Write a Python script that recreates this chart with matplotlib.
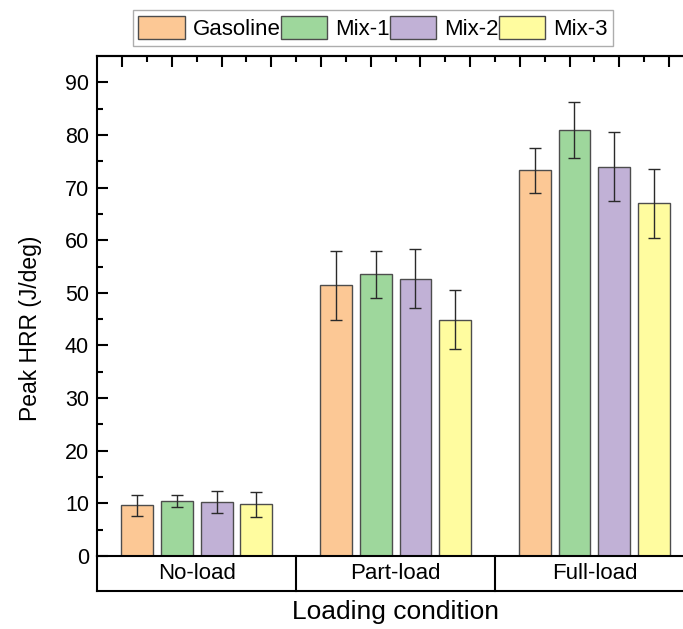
import matplotlib
matplotlib.use("Agg")
import matplotlib.pyplot as plt
import matplotlib.transforms as mtransforms
from matplotlib.patches import Patch
import numpy as np

plt.rcParams['font.family'] = ['Liberation Sans', 'DejaVu Sans']

categories = ["No-load", "Part-load", "Full-load"]
series = ["Gasoline", "Mix-1", "Mix-2", "Mix-3"]
gasoline = [9.6, 51.4, 73.3]
mix1 = [10.4, 53.5, 80.9]
mix2 = [10.2, 52.7, 74.0]
mix3 = [9.8, 44.9, 67.0]
gasoline_err = [2.05, 6.5, 4.3]
mix1_err = [1.1, 4.4, 5.3]
mix2_err = [2.1, 5.6, 6.5]
mix3_err = [2.45, 5.6, 6.5]
colors = ["#FCC895", "#9ED79C", "#C1B1D6", "#FFFC9F"]

values = [gasoline, mix1, mix2, mix3]
errors = [gasoline_err, mix1_err, mix2_err, mix3_err]

W, H = 683, 629
fig = plt.figure(figsize=(W/100, H/100), dpi=100)
ax_left, ax_right, ax_top, ax_bot = 97.3, 693.8, 56, 556
ax = fig.add_axes([ax_left/W, 1-ax_bot/H, (ax_right-ax_left)/W, (ax_bot-ax_top)/H])

x = np.arange(1, len(categories)+1)
step = 0.2
bw = 0.16
for i, (vals, errs, c) in enumerate(zip(values, errors, colors)):
    pos = x + (i-1.5)*step
    ax.bar(pos, vals, width=bw, color=c, edgecolor="#4d4d4d", linewidth=1.0, zorder=2)
    ax.errorbar(pos, vals, yerr=errs, fmt='none', ecolor="#2a2a2a", elinewidth=1.0,
                capsize=4.5, capthick=1.0, zorder=3)

ax.set_xlim(0.5, 3.5)
ax.set_ylim(0, 95)
ax.set_yticks(np.arange(0, 91, 10))
ax.set_yticks(np.arange(0, 95, 5), minor=True)
ax.tick_params(axis='y', which='major', direction='in', length=8, width=1.5, labelsize=15.5, pad=6, right=False)
ax.tick_params(axis='y', which='minor', direction='in', length=4.5, width=1.5, right=False)

# top ticks
ax.set_xticks([])
secx = ax.secondary_xaxis('top')
secx.set_xticks(np.arange(0.625, 3.5, 0.25))
secx.set_xticks(np.arange(0.75, 3.5, 0.25), minor=True)
secx.tick_params(which='major', direction='in', length=8, width=1.5, labeltop=False)
secx.tick_params(which='minor', direction='in', length=4.5, width=1.5)
secx.spines['top'].set_linewidth(1.5)

for s in ['left', 'bottom', 'top', 'right']:
    ax.spines[s].set_linewidth(1.5)
ax.spines['right'].set_visible(False)

# category table below axes
trans = mtransforms.blended_transform_factory(ax.transData, ax.transAxes)
tb = -(590.7-556)/(ax_bot-ax_top)
ax.plot([0.5, 3.5], [tb, tb], transform=trans, color='black', lw=1.5, clip_on=False)
for xb in [0.5, 1.5, 2.5, 3.5]:
    ax.plot([xb, xb], [0, tb], transform=trans, color='black', lw=1.5, clip_on=False)
for xi, cat in zip(x, categories):
    ax.text(xi, tb/2, cat, transform=trans, ha='center', va='center', fontsize=16)

fig.text((ax_left+ax_right)/2/W, 1-612/H, "Loading condition", ha='center', va='center', fontsize=19)
fig.text(31/W, 1-328/H, "Peak HRR (J/deg)", ha='center', va='center', rotation=90, fontsize=16.5)

handles = [Patch(facecolor=c, edgecolor="#4d4d4d", linewidth=1.0) for c in colors]
leg = fig.legend(handles, series, loc='center', bbox_to_anchor=(373/W, 1-28/H), ncol=4,
                 fontsize=16, frameon=True, fancybox=False, edgecolor='#999999',
                 handlelength=2.1, handleheight=1.25, handletextpad=0.35, columnspacing=0.0,
                 borderpad=0.25, borderaxespad=0)
leg.get_frame().set_linewidth(1.0)

fig.savefig("out.png", dpi=100)
